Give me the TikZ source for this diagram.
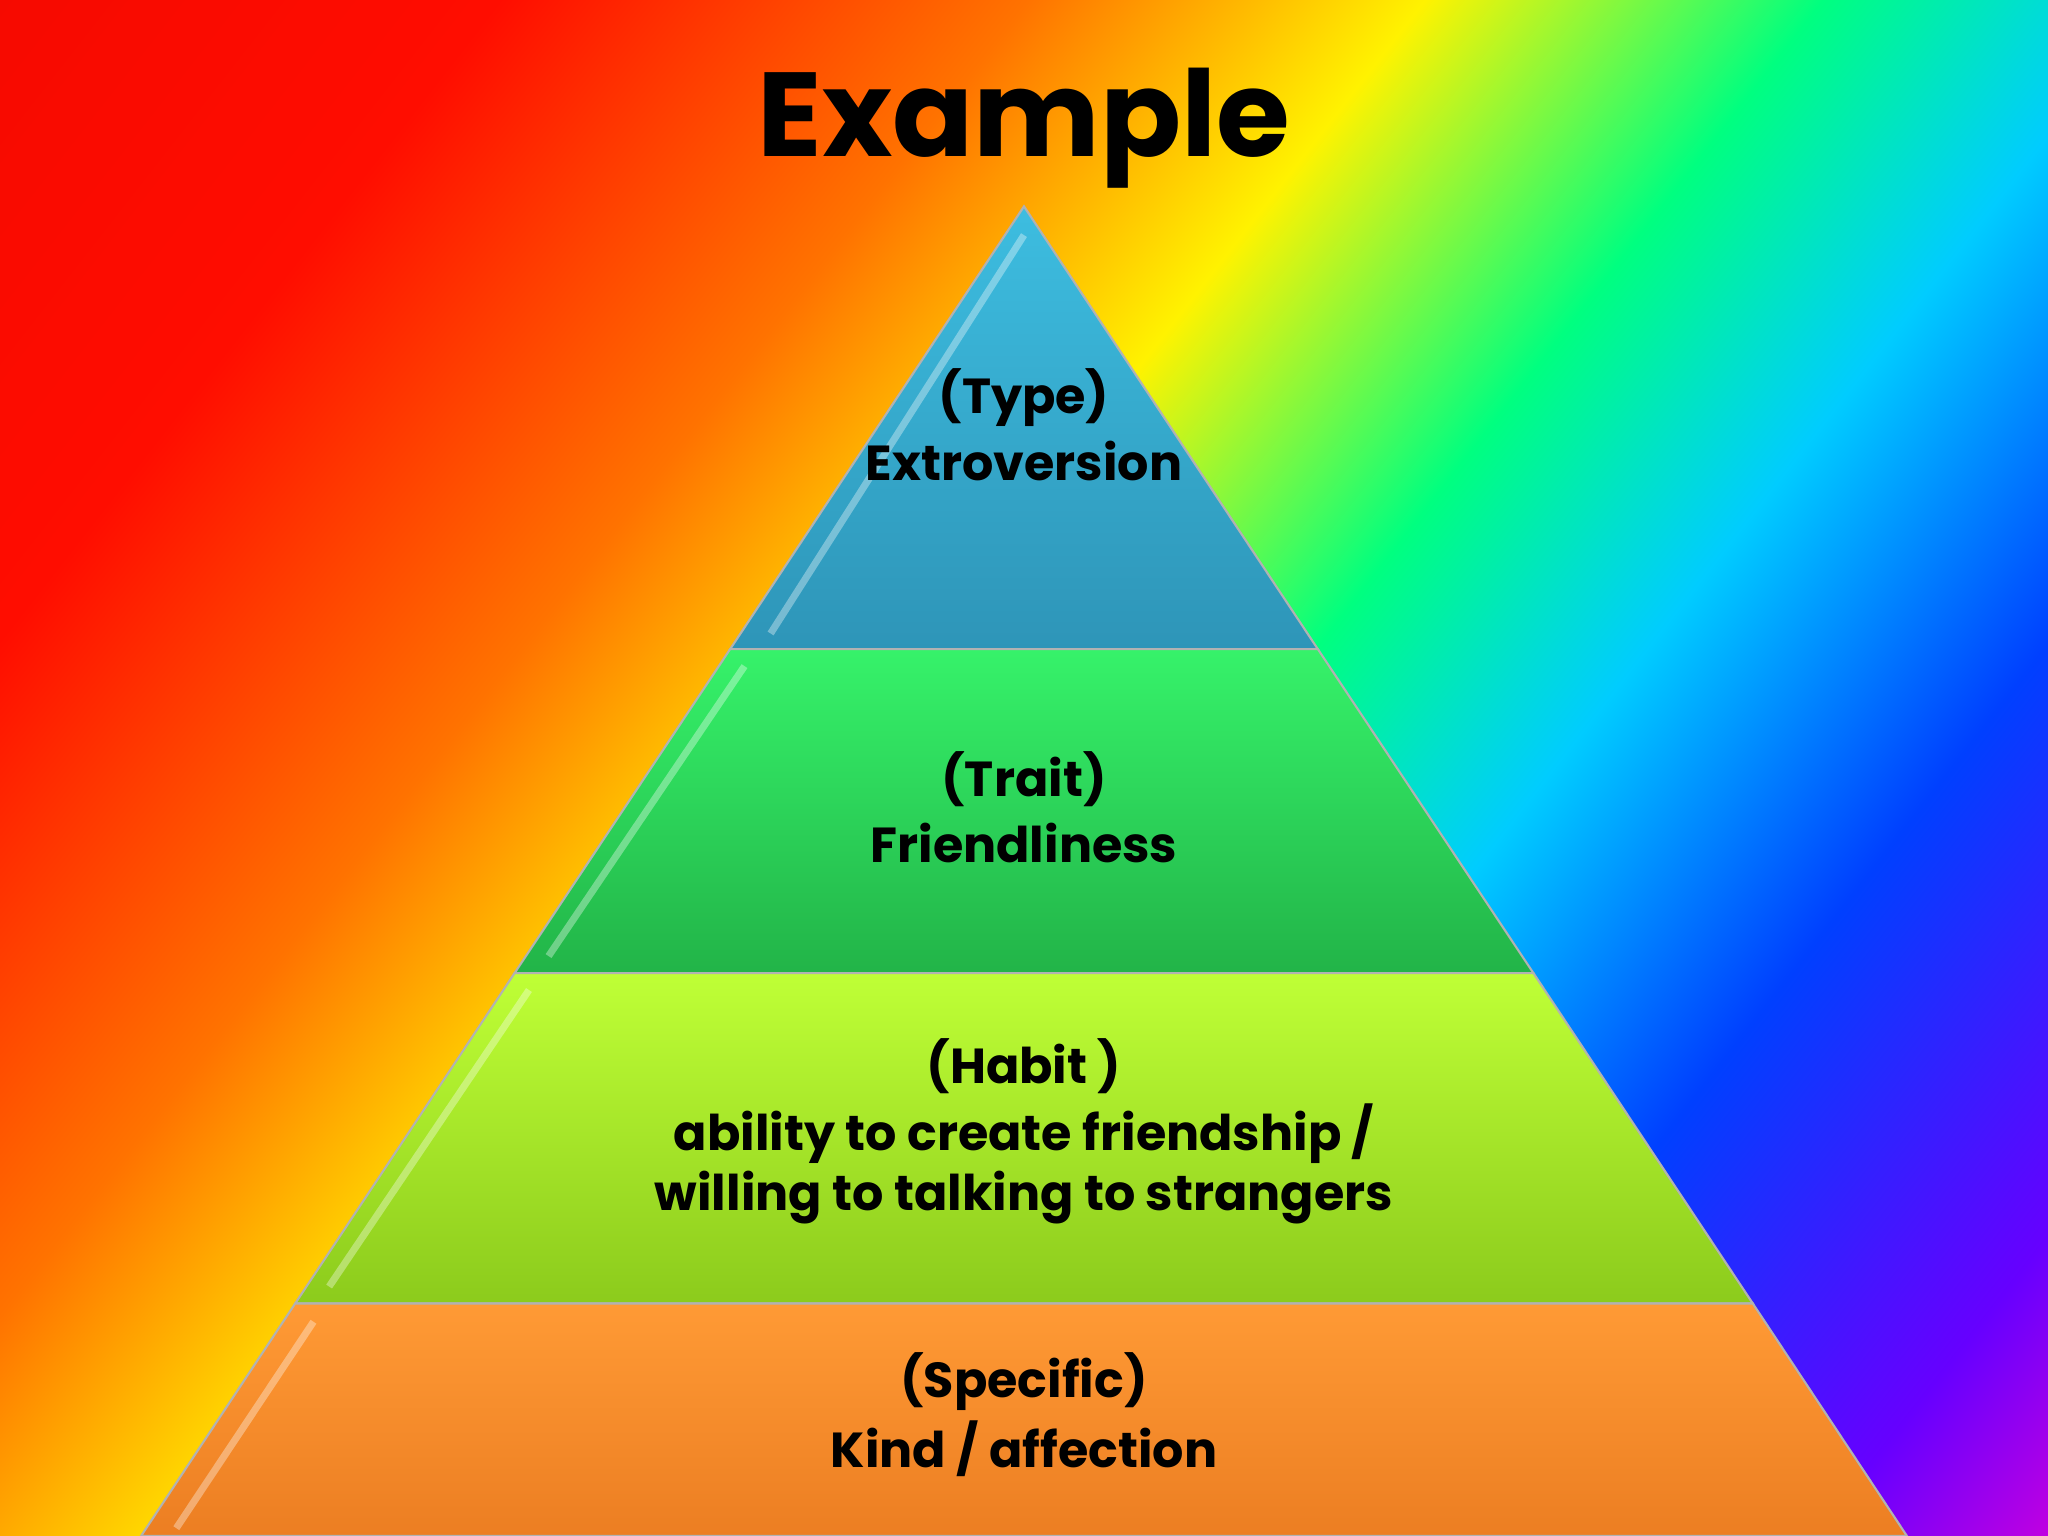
\documentclass[tikz,border=0pt]{standalone}
\usepackage{fontspec}
\setmainfont{Poppins}
\pgfdeclarehorizontalshading{rainbowbg}{100bp}{color(0bp)=(red!85!black); color(33bp)=(red!90!orange); color(41bp)=(orange!90!red); color(47bp)=(yellow!90!orange); color(53bp)=(green!50!cyan); color(58bp)=(cyan!80!blue); color(64bp)=(blue!75!cyan); color(71bp)=(blue!60!magenta); color(77bp)=(magenta!80!red); color(100bp)=(magenta!80!red)}
\definecolor{tA}{HTML}{3DBDE0}\definecolor{tAd}{HTML}{2E95B8}
\definecolor{tB}{HTML}{36F26A}\definecolor{tBd}{HTML}{22B448}
\definecolor{tC}{HTML}{BFFF36}\definecolor{tCd}{HTML}{8CCB1C}
\definecolor{tD}{HTML}{FF9A35}\definecolor{tDd}{HTML}{EC7E22}
\tikzset{lbl/.style={align=center,font=\fontsize{14}{17}\selectfont\bfseries,text=black},
tier/.style={draw=black!30,line width=0.6pt}}
\begin{document}
\begin{tikzpicture}[x=0.01306cm,y=-0.01306cm]
\useasboundingbox (0,0) rectangle (1568,1176);
\shade[shading=rainbowbg,shading angle=-38] (-300,-300) rectangle (1868,1476);
\shade[tier,top color=tA,bottom color=tAd] (784,158) -- (1009,497) -- (559,497) -- cycle;
\shade[tier,top color=tB,bottom color=tBd] (559,497) -- (1009,497) -- (1174,745) -- (394,745) -- cycle;
\shade[tier,top color=tC,bottom color=tCd] (394,745) -- (1174,745) -- (1342,998) -- (226,998) -- cycle;
\shade[tier,top color=tD,bottom color=tDd] (226,998) -- (1342,998) -- (1460,1176) -- (108,1176) -- cycle;
\draw[white,opacity=0.35,line width=2pt] (590,485)--(784,180) (420,732)--(570,510) (252,985)--(405,758) (135,1170)--(240,1012);
\node (title) at (784,98) {\fontsize{34}{40}\selectfont\bfseries Example};
\node[lbl] (t1) at (784,325) {(Type)\\[2pt]Extroversion};
\node[lbl] (t2) at (784,618) {(Trait)\\[2pt]Friendliness};
\node[lbl] (t3) at (784,866) {(Habit )\\[2pt]ability to create friendship /\\willing to talking to strangers};
\node[lbl] (t4) at (784,1083) {(Specific)\\[2pt]Kind / affection};
\end{tikzpicture}
\end{document}
